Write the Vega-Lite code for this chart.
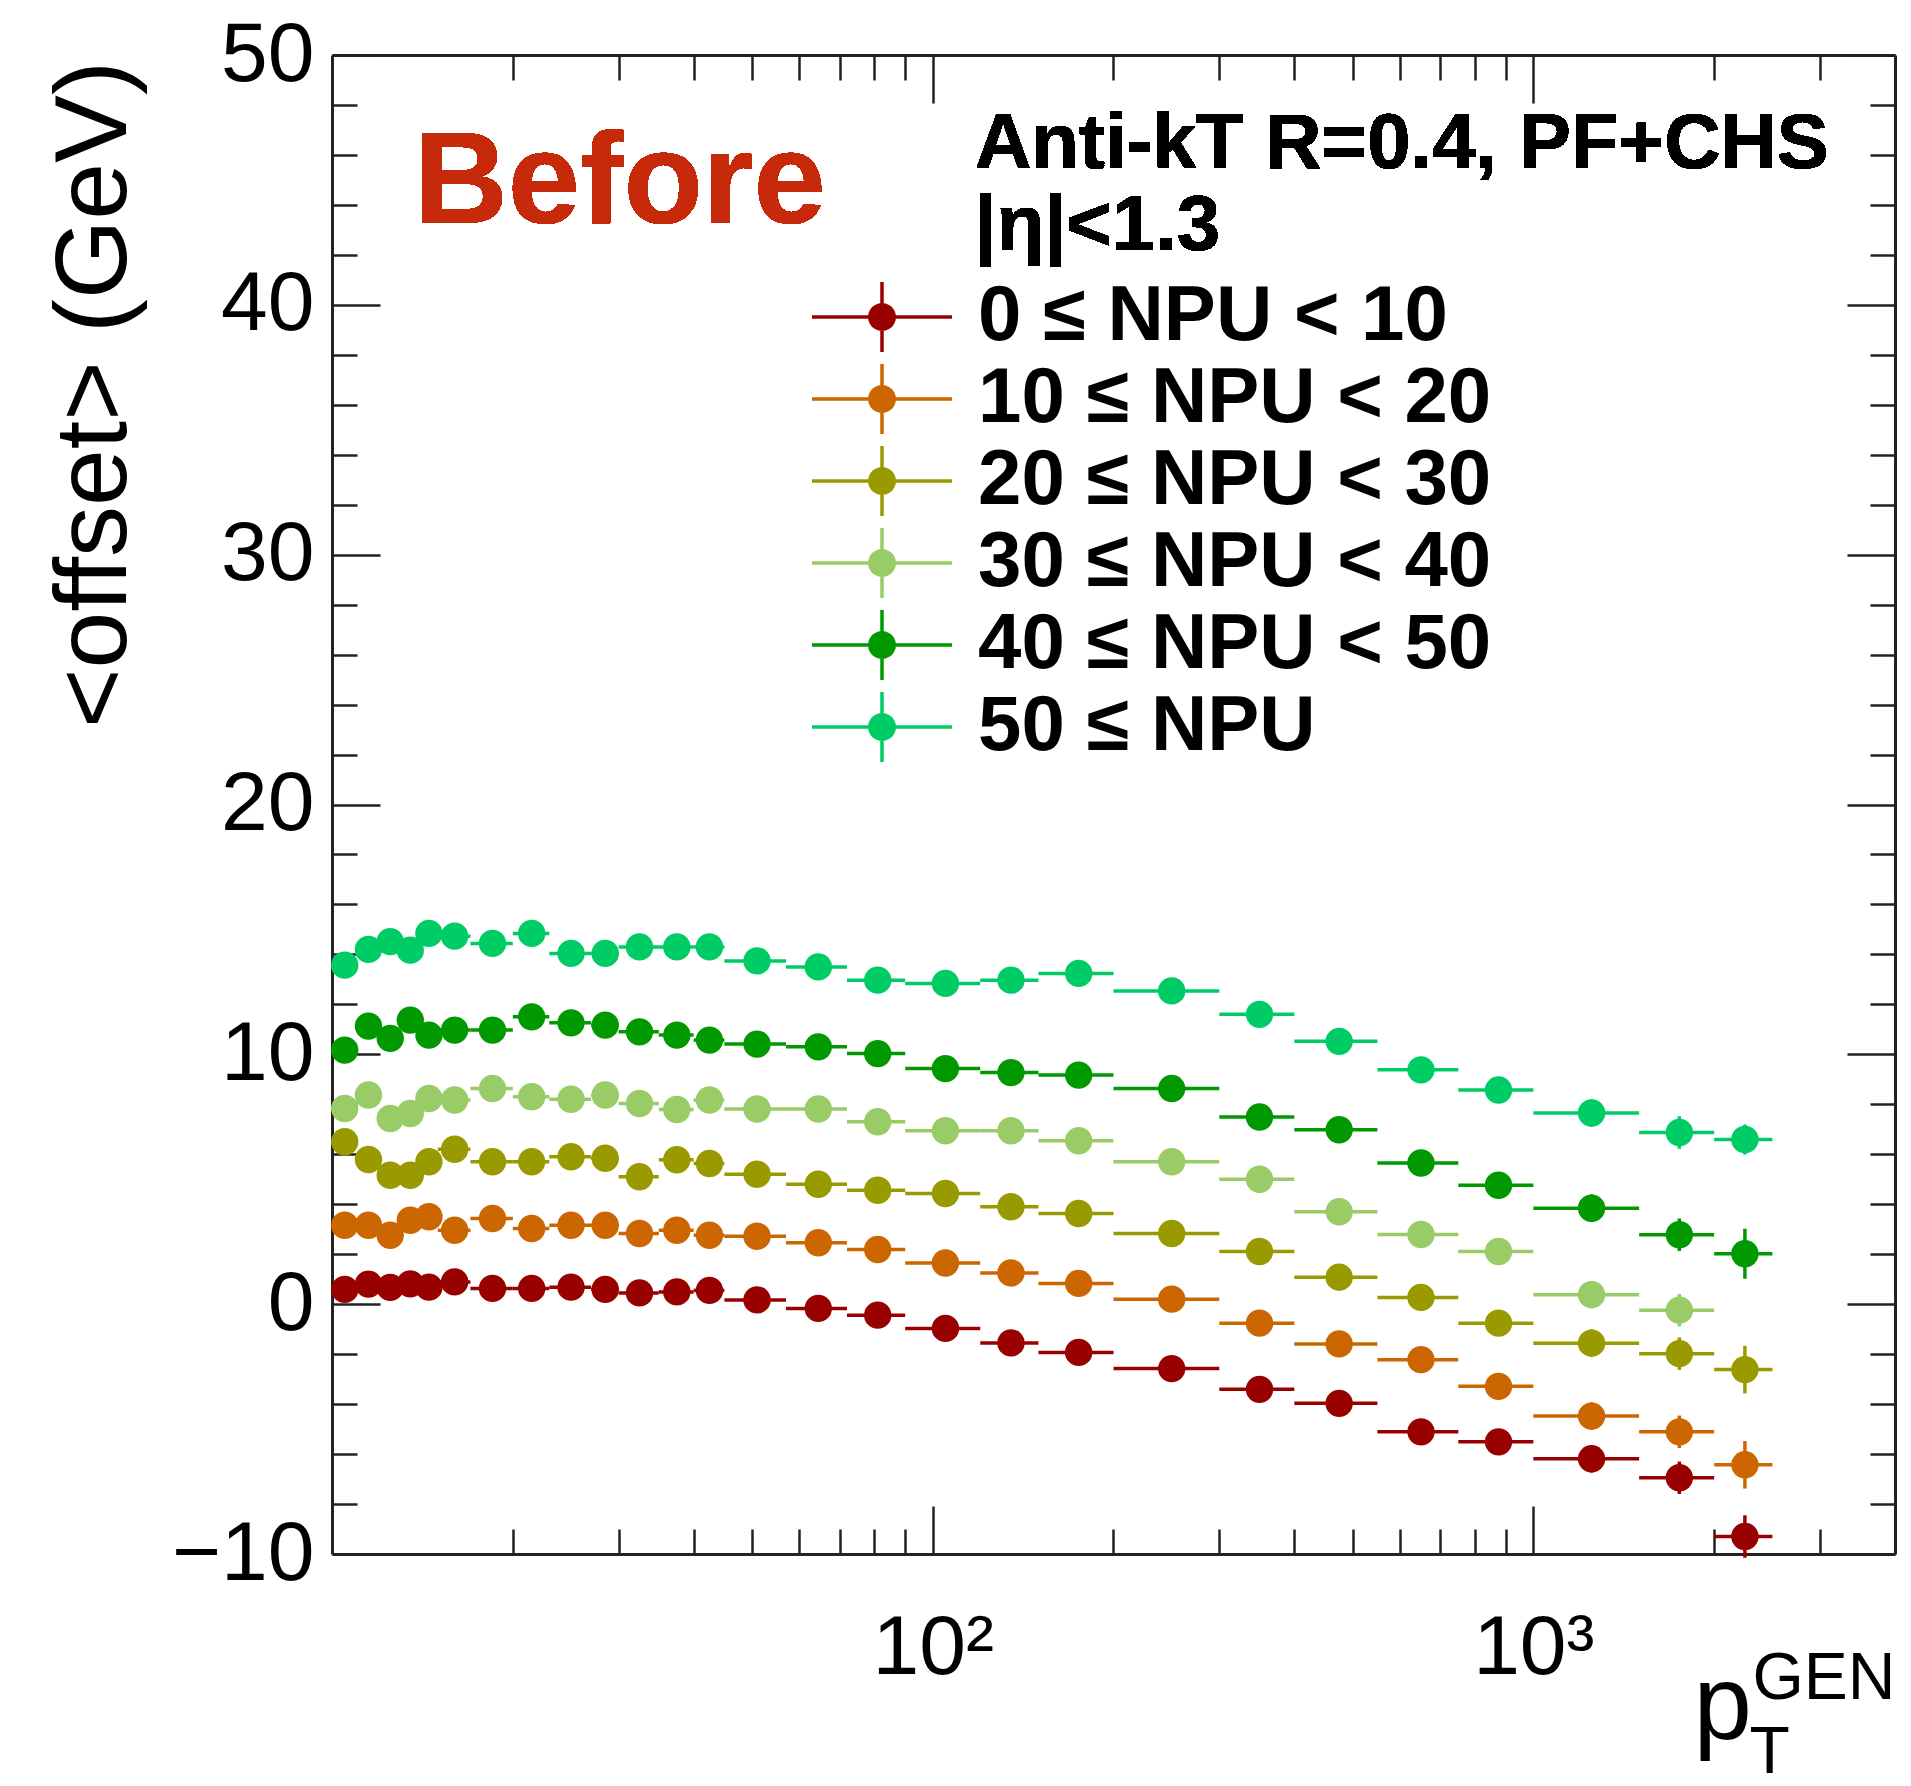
{
  "$schema": "https://vega.github.io/schema/vega-lite/v6.json",
  "width": 1563,
  "height": 1499,
  "autosize": {"type": "none"},
  "padding": {"left": 332, "top": 55, "right": 16, "bottom": 232},
  "background": "white",
  "config": {
    "view": {"stroke": null},
    "font": "Liberation Sans",
    "axis": {
      "domainColor": "#222222", "domainWidth": 3, "tickColor": "#222222", "tickWidth": 2.5,
      "grid": false, "labelColor": "#000000", "labelFont": "Liberation Sans", "labelFontSize": 84,
      "titleFont": "Liberation Sans", "titleFontWeight": "normal", "titleColor": "#000000", "labelOverlap": false
    }
  },
  "data": {"values": [
    {"s":"0 ≤ NPU < 10","pt":10.5,"lo":10,"hi":11,"y":0.59,"e":0.25},
    {"s":"0 ≤ NPU < 10","pt":11.5,"lo":11,"hi":12,"y":0.8,"e":0.25},
    {"s":"0 ≤ NPU < 10","pt":12.5,"lo":12,"hi":13,"y":0.67,"e":0.25},
    {"s":"0 ≤ NPU < 10","pt":13.5,"lo":13,"hi":14,"y":0.81,"e":0.25},
    {"s":"0 ≤ NPU < 10","pt":14.5,"lo":14,"hi":15,"y":0.68,"e":0.25},
    {"s":"0 ≤ NPU < 10","pt":16,"lo":15,"hi":17,"y":0.89,"e":0.25},
    {"s":"0 ≤ NPU < 10","pt":18.5,"lo":17,"hi":20,"y":0.63,"e":0.25},
    {"s":"0 ≤ NPU < 10","pt":21.5,"lo":20,"hi":23,"y":0.63,"e":0.25},
    {"s":"0 ≤ NPU < 10","pt":25,"lo":23,"hi":27,"y":0.68,"e":0.25},
    {"s":"0 ≤ NPU < 10","pt":28.5,"lo":27,"hi":30,"y":0.59,"e":0.25},
    {"s":"0 ≤ NPU < 10","pt":32.5,"lo":30,"hi":35,"y":0.45,"e":0.25},
    {"s":"0 ≤ NPU < 10","pt":37.5,"lo":35,"hi":40,"y":0.49,"e":0.25},
    {"s":"0 ≤ NPU < 10","pt":42.5,"lo":40,"hi":45,"y":0.55,"e":0.25},
    {"s":"0 ≤ NPU < 10","pt":51,"lo":45,"hi":57,"y":0.17,"e":0.25},
    {"s":"0 ≤ NPU < 10","pt":64.5,"lo":57,"hi":72,"y":-0.17,"e":0.3},
    {"s":"0 ≤ NPU < 10","pt":81,"lo":72,"hi":90,"y":-0.44,"e":0.3},
    {"s":"0 ≤ NPU < 10","pt":105,"lo":90,"hi":120,"y":-0.97,"e":0.3},
    {"s":"0 ≤ NPU < 10","pt":135,"lo":120,"hi":150,"y":-1.55,"e":0.3},
    {"s":"0 ≤ NPU < 10","pt":175,"lo":150,"hi":200,"y":-1.93,"e":0.3},
    {"s":"0 ≤ NPU < 10","pt":250,"lo":200,"hi":300,"y":-2.58,"e":0.4},
    {"s":"0 ≤ NPU < 10","pt":350,"lo":300,"hi":400,"y":-3.41,"e":0.4},
    {"s":"0 ≤ NPU < 10","pt":475,"lo":400,"hi":550,"y":-3.97,"e":0.4},
    {"s":"0 ≤ NPU < 10","pt":650,"lo":550,"hi":750,"y":-5.11,"e":0.5},
    {"s":"0 ≤ NPU < 10","pt":875,"lo":750,"hi":1000,"y":-5.51,"e":0.5},
    {"s":"0 ≤ NPU < 10","pt":1250,"lo":1000,"hi":1500,"y":-6.19,"e":0.55},
    {"s":"0 ≤ NPU < 10","pt":1750,"lo":1500,"hi":2000,"y":-6.95,"e":0.65},
    {"s":"0 ≤ NPU < 10","pt":2250,"lo":2000,"hi":2500,"y":-9.3,"e":0.85},

    {"s":"10 ≤ NPU < 20","pt":10.5,"lo":10,"hi":11,"y":3.16,"e":0.25},
    {"s":"10 ≤ NPU < 20","pt":11.5,"lo":11,"hi":12,"y":3.16,"e":0.25},
    {"s":"10 ≤ NPU < 20","pt":12.5,"lo":12,"hi":13,"y":2.76,"e":0.25},
    {"s":"10 ≤ NPU < 20","pt":13.5,"lo":13,"hi":14,"y":3.36,"e":0.25},
    {"s":"10 ≤ NPU < 20","pt":14.5,"lo":14,"hi":15,"y":3.5,"e":0.25},
    {"s":"10 ≤ NPU < 20","pt":16,"lo":15,"hi":17,"y":2.96,"e":0.25},
    {"s":"10 ≤ NPU < 20","pt":18.5,"lo":17,"hi":20,"y":3.43,"e":0.25},
    {"s":"10 ≤ NPU < 20","pt":21.5,"lo":20,"hi":23,"y":3.03,"e":0.25},
    {"s":"10 ≤ NPU < 20","pt":25,"lo":23,"hi":27,"y":3.16,"e":0.25},
    {"s":"10 ≤ NPU < 20","pt":28.5,"lo":27,"hi":30,"y":3.16,"e":0.25},
    {"s":"10 ≤ NPU < 20","pt":32.5,"lo":30,"hi":35,"y":2.83,"e":0.25},
    {"s":"10 ≤ NPU < 20","pt":37.5,"lo":35,"hi":40,"y":2.96,"e":0.25},
    {"s":"10 ≤ NPU < 20","pt":42.5,"lo":40,"hi":45,"y":2.76,"e":0.25},
    {"s":"10 ≤ NPU < 20","pt":51,"lo":45,"hi":57,"y":2.72,"e":0.25},
    {"s":"10 ≤ NPU < 20","pt":64.5,"lo":57,"hi":72,"y":2.46,"e":0.3},
    {"s":"10 ≤ NPU < 20","pt":81,"lo":72,"hi":90,"y":2.19,"e":0.3},
    {"s":"10 ≤ NPU < 20","pt":105,"lo":90,"hi":120,"y":1.65,"e":0.3},
    {"s":"10 ≤ NPU < 20","pt":135,"lo":120,"hi":150,"y":1.25,"e":0.3},
    {"s":"10 ≤ NPU < 20","pt":175,"lo":150,"hi":200,"y":0.83,"e":0.3},
    {"s":"10 ≤ NPU < 20","pt":250,"lo":200,"hi":300,"y":0.2,"e":0.4},
    {"s":"10 ≤ NPU < 20","pt":350,"lo":300,"hi":400,"y":-0.76,"e":0.4},
    {"s":"10 ≤ NPU < 20","pt":475,"lo":400,"hi":550,"y":-1.59,"e":0.4},
    {"s":"10 ≤ NPU < 20","pt":650,"lo":550,"hi":750,"y":-2.22,"e":0.5},
    {"s":"10 ≤ NPU < 20","pt":875,"lo":750,"hi":1000,"y":-3.29,"e":0.5},
    {"s":"10 ≤ NPU < 20","pt":1250,"lo":1000,"hi":1500,"y":-4.48,"e":0.55},
    {"s":"10 ≤ NPU < 20","pt":1750,"lo":1500,"hi":2000,"y":-5.11,"e":0.65},
    {"s":"10 ≤ NPU < 20","pt":2250,"lo":2000,"hi":2500,"y":-6.43,"e":0.95},

    {"s":"20 ≤ NPU < 30","pt":10.5,"lo":10,"hi":11,"y":6.5,"e":0.25},
    {"s":"20 ≤ NPU < 30","pt":11.5,"lo":11,"hi":12,"y":5.79,"e":0.25},
    {"s":"20 ≤ NPU < 30","pt":12.5,"lo":12,"hi":13,"y":5.16,"e":0.25},
    {"s":"20 ≤ NPU < 30","pt":13.5,"lo":13,"hi":14,"y":5.16,"e":0.25},
    {"s":"20 ≤ NPU < 30","pt":14.5,"lo":14,"hi":15,"y":5.7,"e":0.25},
    {"s":"20 ≤ NPU < 30","pt":16,"lo":15,"hi":17,"y":6.2,"e":0.25},
    {"s":"20 ≤ NPU < 30","pt":18.5,"lo":17,"hi":20,"y":5.7,"e":0.25},
    {"s":"20 ≤ NPU < 30","pt":21.5,"lo":20,"hi":23,"y":5.7,"e":0.25},
    {"s":"20 ≤ NPU < 30","pt":25,"lo":23,"hi":27,"y":5.9,"e":0.25},
    {"s":"20 ≤ NPU < 30","pt":28.5,"lo":27,"hi":30,"y":5.84,"e":0.25},
    {"s":"20 ≤ NPU < 30","pt":32.5,"lo":30,"hi":35,"y":5.1,"e":0.25},
    {"s":"20 ≤ NPU < 30","pt":37.5,"lo":35,"hi":40,"y":5.78,"e":0.25},
    {"s":"20 ≤ NPU < 30","pt":42.5,"lo":40,"hi":45,"y":5.63,"e":0.25},
    {"s":"20 ≤ NPU < 30","pt":51,"lo":45,"hi":57,"y":5.2,"e":0.25},
    {"s":"20 ≤ NPU < 30","pt":64.5,"lo":57,"hi":72,"y":4.8,"e":0.3},
    {"s":"20 ≤ NPU < 30","pt":81,"lo":72,"hi":90,"y":4.56,"e":0.3},
    {"s":"20 ≤ NPU < 30","pt":105,"lo":90,"hi":120,"y":4.43,"e":0.3},
    {"s":"20 ≤ NPU < 30","pt":135,"lo":120,"hi":150,"y":3.9,"e":0.3},
    {"s":"20 ≤ NPU < 30","pt":175,"lo":150,"hi":200,"y":3.63,"e":0.3},
    {"s":"20 ≤ NPU < 30","pt":250,"lo":200,"hi":300,"y":2.83,"e":0.4},
    {"s":"20 ≤ NPU < 30","pt":350,"lo":300,"hi":400,"y":2.11,"e":0.4},
    {"s":"20 ≤ NPU < 30","pt":475,"lo":400,"hi":550,"y":1.08,"e":0.4},
    {"s":"20 ≤ NPU < 30","pt":650,"lo":550,"hi":750,"y":0.27,"e":0.5},
    {"s":"20 ≤ NPU < 30","pt":875,"lo":750,"hi":1000,"y":-0.76,"e":0.5},
    {"s":"20 ≤ NPU < 30","pt":1250,"lo":1000,"hi":1500,"y":-1.56,"e":0.55},
    {"s":"20 ≤ NPU < 30","pt":1750,"lo":1500,"hi":2000,"y":-1.98,"e":0.65},
    {"s":"20 ≤ NPU < 30","pt":2250,"lo":2000,"hi":2500,"y":-2.62,"e":0.95},

    {"s":"30 ≤ NPU < 40","pt":10.5,"lo":10,"hi":11,"y":7.83,"e":0.25},
    {"s":"30 ≤ NPU < 40","pt":11.5,"lo":11,"hi":12,"y":8.37,"e":0.25},
    {"s":"30 ≤ NPU < 40","pt":12.5,"lo":12,"hi":13,"y":7.43,"e":0.25},
    {"s":"30 ≤ NPU < 40","pt":13.5,"lo":13,"hi":14,"y":7.63,"e":0.25},
    {"s":"30 ≤ NPU < 40","pt":14.5,"lo":14,"hi":15,"y":8.23,"e":0.25},
    {"s":"30 ≤ NPU < 40","pt":16,"lo":15,"hi":17,"y":8.17,"e":0.25},
    {"s":"30 ≤ NPU < 40","pt":18.5,"lo":17,"hi":20,"y":8.63,"e":0.25},
    {"s":"30 ≤ NPU < 40","pt":21.5,"lo":20,"hi":23,"y":8.3,"e":0.25},
    {"s":"30 ≤ NPU < 40","pt":25,"lo":23,"hi":27,"y":8.2,"e":0.25},
    {"s":"30 ≤ NPU < 40","pt":28.5,"lo":27,"hi":30,"y":8.37,"e":0.25},
    {"s":"30 ≤ NPU < 40","pt":32.5,"lo":30,"hi":35,"y":8.03,"e":0.25},
    {"s":"30 ≤ NPU < 40","pt":37.5,"lo":35,"hi":40,"y":7.79,"e":0.25},
    {"s":"30 ≤ NPU < 40","pt":42.5,"lo":40,"hi":45,"y":8.17,"e":0.25},
    {"s":"30 ≤ NPU < 40","pt":51,"lo":45,"hi":57,"y":7.81,"e":0.25},
    {"s":"30 ≤ NPU < 40","pt":64.5,"lo":57,"hi":72,"y":7.81,"e":0.3},
    {"s":"30 ≤ NPU < 40","pt":81,"lo":72,"hi":90,"y":7.3,"e":0.3},
    {"s":"30 ≤ NPU < 40","pt":105,"lo":90,"hi":120,"y":6.94,"e":0.3},
    {"s":"30 ≤ NPU < 40","pt":135,"lo":120,"hi":150,"y":6.94,"e":0.3},
    {"s":"30 ≤ NPU < 40","pt":175,"lo":150,"hi":200,"y":6.54,"e":0.3},
    {"s":"30 ≤ NPU < 40","pt":250,"lo":200,"hi":300,"y":5.7,"e":0.4},
    {"s":"30 ≤ NPU < 40","pt":350,"lo":300,"hi":400,"y":5.0,"e":0.4},
    {"s":"30 ≤ NPU < 40","pt":475,"lo":400,"hi":550,"y":3.7,"e":0.4},
    {"s":"30 ≤ NPU < 40","pt":650,"lo":550,"hi":750,"y":2.79,"e":0.5},
    {"s":"30 ≤ NPU < 40","pt":875,"lo":750,"hi":1000,"y":2.11,"e":0.5},
    {"s":"30 ≤ NPU < 40","pt":1250,"lo":1000,"hi":1500,"y":0.38,"e":0.55},
    {"s":"30 ≤ NPU < 40","pt":1750,"lo":1500,"hi":2000,"y":-0.24,"e":0.65},

    {"s":"40 ≤ NPU < 50","pt":10.5,"lo":10,"hi":11,"y":10.17,"e":0.25},
    {"s":"40 ≤ NPU < 50","pt":11.5,"lo":11,"hi":12,"y":11.13,"e":0.25},
    {"s":"40 ≤ NPU < 50","pt":12.5,"lo":12,"hi":13,"y":10.64,"e":0.25},
    {"s":"40 ≤ NPU < 50","pt":13.5,"lo":13,"hi":14,"y":11.37,"e":0.25},
    {"s":"40 ≤ NPU < 50","pt":14.5,"lo":14,"hi":15,"y":10.77,"e":0.25},
    {"s":"40 ≤ NPU < 50","pt":16,"lo":15,"hi":17,"y":10.97,"e":0.25},
    {"s":"40 ≤ NPU < 50","pt":18.5,"lo":17,"hi":20,"y":10.97,"e":0.25},
    {"s":"40 ≤ NPU < 50","pt":21.5,"lo":20,"hi":23,"y":11.5,"e":0.25},
    {"s":"40 ≤ NPU < 50","pt":25,"lo":23,"hi":27,"y":11.26,"e":0.25},
    {"s":"40 ≤ NPU < 50","pt":28.5,"lo":27,"hi":30,"y":11.17,"e":0.25},
    {"s":"40 ≤ NPU < 50","pt":32.5,"lo":30,"hi":35,"y":10.9,"e":0.25},
    {"s":"40 ≤ NPU < 50","pt":37.5,"lo":35,"hi":40,"y":10.77,"e":0.25},
    {"s":"40 ≤ NPU < 50","pt":42.5,"lo":40,"hi":45,"y":10.57,"e":0.25},
    {"s":"40 ≤ NPU < 50","pt":51,"lo":45,"hi":57,"y":10.41,"e":0.25},
    {"s":"40 ≤ NPU < 50","pt":64.5,"lo":57,"hi":72,"y":10.3,"e":0.3},
    {"s":"40 ≤ NPU < 50","pt":81,"lo":72,"hi":90,"y":10.03,"e":0.3},
    {"s":"40 ≤ NPU < 50","pt":105,"lo":90,"hi":120,"y":9.43,"e":0.3},
    {"s":"40 ≤ NPU < 50","pt":135,"lo":120,"hi":150,"y":9.27,"e":0.3},
    {"s":"40 ≤ NPU < 50","pt":175,"lo":150,"hi":200,"y":9.17,"e":0.3},
    {"s":"40 ≤ NPU < 50","pt":250,"lo":200,"hi":300,"y":8.63,"e":0.4},
    {"s":"40 ≤ NPU < 50","pt":350,"lo":300,"hi":400,"y":7.49,"e":0.4},
    {"s":"40 ≤ NPU < 50","pt":475,"lo":400,"hi":550,"y":6.98,"e":0.4},
    {"s":"40 ≤ NPU < 50","pt":650,"lo":550,"hi":750,"y":5.65,"e":0.5},
    {"s":"40 ≤ NPU < 50","pt":875,"lo":750,"hi":1000,"y":4.76,"e":0.5},
    {"s":"40 ≤ NPU < 50","pt":1250,"lo":1000,"hi":1500,"y":3.84,"e":0.55},
    {"s":"40 ≤ NPU < 50","pt":1750,"lo":1500,"hi":2000,"y":2.78,"e":0.65},
    {"s":"40 ≤ NPU < 50","pt":2250,"lo":2000,"hi":2500,"y":2.02,"e":1.0},

    {"s":"50 ≤ NPU","pt":10.5,"lo":10,"hi":11,"y":13.57,"e":0.25},
    {"s":"50 ≤ NPU","pt":11.5,"lo":11,"hi":12,"y":14.2,"e":0.25},
    {"s":"50 ≤ NPU","pt":12.5,"lo":12,"hi":13,"y":14.51,"e":0.25},
    {"s":"50 ≤ NPU","pt":13.5,"lo":13,"hi":14,"y":14.17,"e":0.25},
    {"s":"50 ≤ NPU","pt":14.5,"lo":14,"hi":15,"y":14.84,"e":0.25},
    {"s":"50 ≤ NPU","pt":16,"lo":15,"hi":17,"y":14.73,"e":0.25},
    {"s":"50 ≤ NPU","pt":18.5,"lo":17,"hi":20,"y":14.44,"e":0.25},
    {"s":"50 ≤ NPU","pt":21.5,"lo":20,"hi":23,"y":14.84,"e":0.25},
    {"s":"50 ≤ NPU","pt":25,"lo":23,"hi":27,"y":14.04,"e":0.25},
    {"s":"50 ≤ NPU","pt":28.5,"lo":27,"hi":30,"y":14.04,"e":0.25},
    {"s":"50 ≤ NPU","pt":32.5,"lo":30,"hi":35,"y":14.3,"e":0.25},
    {"s":"50 ≤ NPU","pt":37.5,"lo":35,"hi":40,"y":14.3,"e":0.25},
    {"s":"50 ≤ NPU","pt":42.5,"lo":40,"hi":45,"y":14.3,"e":0.25},
    {"s":"50 ≤ NPU","pt":51,"lo":45,"hi":57,"y":13.74,"e":0.25},
    {"s":"50 ≤ NPU","pt":64.5,"lo":57,"hi":72,"y":13.5,"e":0.3},
    {"s":"50 ≤ NPU","pt":81,"lo":72,"hi":90,"y":12.97,"e":0.3},
    {"s":"50 ≤ NPU","pt":105,"lo":90,"hi":120,"y":12.84,"e":0.3},
    {"s":"50 ≤ NPU","pt":135,"lo":120,"hi":150,"y":12.97,"e":0.3},
    {"s":"50 ≤ NPU","pt":175,"lo":150,"hi":200,"y":13.24,"e":0.3},
    {"s":"50 ≤ NPU","pt":250,"lo":200,"hi":300,"y":12.54,"e":0.4},
    {"s":"50 ≤ NPU","pt":350,"lo":300,"hi":400,"y":11.6,"e":0.4},
    {"s":"50 ≤ NPU","pt":475,"lo":400,"hi":550,"y":10.52,"e":0.4},
    {"s":"50 ≤ NPU","pt":650,"lo":550,"hi":750,"y":9.38,"e":0.5},
    {"s":"50 ≤ NPU","pt":875,"lo":750,"hi":1000,"y":8.57,"e":0.5},
    {"s":"50 ≤ NPU","pt":1250,"lo":1000,"hi":1500,"y":7.65,"e":0.55},
    {"s":"50 ≤ NPU","pt":1750,"lo":1500,"hi":2000,"y":6.87,"e":0.65},
    {"s":"50 ≤ NPU","pt":2250,"lo":2000,"hi":2500,"y":6.59,"e":0.6}
  ]},
  "layer": [
    {
      "mark": {"type": "rule", "strokeWidth": 3.5},
      "encoding": {
        "x": {"field": "lo", "type": "quantitative",
          "scale": {"type": "log", "domain": [10, 4000], "nice": false},
          "axis": {"orient": "bottom", "values": [100, 1000], "labelExpr": "datum.value == 100 ? '10²' : '10³'",
            "tickSize": -48, "labelPadding": 101, "labelBaseline": "top", "labelFlush": false,
            "title": "p", "titleFontSize": 105, "titleX": 1361, "titleY": 184, "titleAlign": "left", "titleBaseline": "alphabetic"}},
        "x2": {"field": "hi"},
        "y": {"field": "y", "type": "quantitative",
          "scale": {"domain": [-10, 50], "nice": false, "zero": false},
          "axis": {"orient": "left", "values": [-10, 0, 10, 20, 30, 40, 50], "tickSize": -48, "labelPadding": 66,
            "title": "<offset> (GeV)", "titleFontSize": 102, "titleX": -207, "titleY": 339, "titleAngle": 270,
            "titleAlign": "center", "titleBaseline": "alphabetic"}},
        "stroke": {"field": "s", "type": "nominal",
          "scale": {"range": ["#990000", "#CC6600", "#999900", "#99CC66", "#009900", "#00CC66"]},
          "legend": null}
      }
    },
    {
      "mark": {"type": "errorbar", "thickness": 3.5},
      "encoding": {
        "x": {"field": "pt", "type": "quantitative", "scale": {"type": "log", "domain": [10, 4000], "nice": false}, "axis": null},
        "y": {"field": "y", "type": "quantitative", "scale": {"domain": [-10, 50], "nice": false, "zero": false}, "axis": null},
        "yError": {"field": "e"},
        "stroke": {"field": "s", "type": "nominal", "legend": null}
      }
    },
    {
      "mark": {"type": "point", "filled": true, "shape": "circle", "size": 750, "opacity": 1},
      "encoding": {
        "x": {"field": "pt", "type": "quantitative", "scale": {"type": "log", "domain": [10, 4000], "nice": false},
          "axis": {"orient": "top", "values": [100, 1000], "tickSize": -48, "labels": false,
            "title": "GEN", "titleFontSize": 66, "titleX": 1420, "titleY": 1643, "titleAlign": "left", "titleBaseline": "alphabetic"}},
        "y": {"field": "y", "type": "quantitative", "scale": {"domain": [-10, 50], "nice": false, "zero": false},
          "axis": {"orient": "right", "values": [-10, 0, 10, 20, 30, 40, 50], "tickSize": -48, "labels": false,
            "title": "T", "titleFontSize": 66, "titleAngle": 0, "titleX": -146, "titleY": 1717, "titleAlign": "left", "titleBaseline": "alphabetic"}},
        "color": {"field": "s", "type": "nominal",
          "scale": {"domain": ["0 ≤ NPU < 10", "10 ≤ NPU < 20", "20 ≤ NPU < 30", "30 ≤ NPU < 40", "40 ≤ NPU < 50", "50 ≤ NPU"],
            "range": ["#990000", "#CC6600", "#999900", "#99CC66", "#009900", "#00CC66"]},
          "legend": {"orient": "none", "legendX": 511, "legendY": 223, "title": null, "padding": 0, "rowPadding": 4,
            "symbolType": "M-2,-0.05L2,-0.05L2,0.05L-2,0.05Z M-0.05,-1L0.05,-1L0.05,1L-0.05,1Z M0.4,0L0.386,0.104L0.346,0.2L0.283,0.283L0.2,0.346L0.104,0.386L0,0.4L-0.104,0.386L-0.2,0.346L-0.283,0.283L-0.346,0.2L-0.386,0.104L-0.4,0L-0.386,-0.104L-0.346,-0.2L-0.283,-0.283L-0.2,-0.346L-0.104,-0.386L0,-0.4L0.104,-0.386L0.2,-0.346L0.283,-0.283L0.346,-0.2L0.386,-0.104Z",
            "symbolSize": 4900, "symbolStrokeWidth": 0,
            "labelFont": "Liberation Sans", "labelFontWeight": "bold", "labelFontSize": 78, "labelColor": "#000000",
            "labelOffset": 57, "labelLimit": 2000}}
      }
    },
    {
      "mark": {"type": "text", "text": "Before", "font": "Liberation Sans", "fontWeight": "bold", "fontSize": 130,
        "color": "#C62A0A", "align": "left", "baseline": "alphabetic"},
      "encoding": {
        "x": {"datum": 13.69, "type": "quantitative", "scale": {"type": "log", "domain": [10, 4000], "nice": false},
          "axis": {"orient": "bottom", "values": [20, 30, 40, 50, 60, 70, 80, 90, 200, 300, 400, 500, 600, 700, 800, 900, 2000, 3000],
            "tickSize": -25, "labels": false, "domain": false, "title": null}},
        "y": {"datum": 43.27, "type": "quantitative", "scale": {"domain": [-10, 50], "nice": false, "zero": false},
          "axis": {"orient": "left", "values": [-8, -6, -4, -2, 2, 4, 6, 8, 12, 14, 16, 18, 22, 24, 26, 28, 32, 34, 36, 38, 42, 44, 46, 48],
            "tickSize": -25, "labels": false, "domain": false, "title": null}}
      }
    },
    {
      "mark": {"type": "text", "text": ["Anti-kT R=0.4, PF+CHS", "|η|<1.3"], "font": "Liberation Sans", "fontWeight": "bold",
        "fontSize": 78, "lineHeight": 82, "color": "#000000", "align": "left", "baseline": "alphabetic"},
      "encoding": {
        "x": {"datum": 117.6, "type": "quantitative", "scale": {"type": "log", "domain": [10, 4000], "nice": false},
          "axis": {"orient": "top", "values": [20, 30, 40, 50, 60, 70, 80, 90, 200, 300, 400, 500, 600, 700, 800, 900, 2000, 3000],
            "tickSize": -25, "labels": false, "domain": false, "title": null}},
        "y": {"datum": 45.48, "type": "quantitative", "scale": {"domain": [-10, 50], "nice": false, "zero": false},
          "axis": {"orient": "right", "values": [-8, -6, -4, -2, 2, 4, 6, 8, 12, 14, 16, 18, 22, 24, 26, 28, 32, 34, 36, 38, 42, 44, 46, 48],
            "tickSize": -25, "labels": false, "domain": false, "title": null}}
      }
    }
  ],
  "resolve": {"axis": {"x": "independent", "y": "independent"}}
}
